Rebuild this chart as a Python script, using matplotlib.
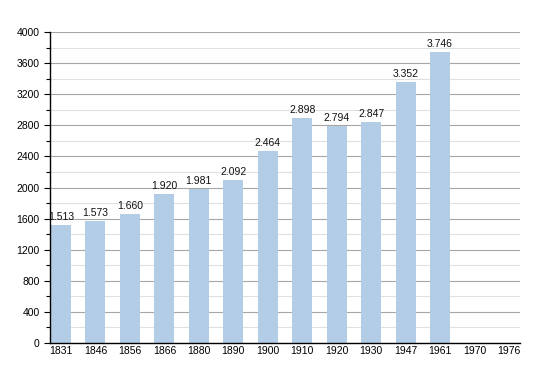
import matplotlib
matplotlib.use("Agg")
import matplotlib.pyplot as plt
import numpy as np

years = ["1831", "1846", "1856", "1866", "1880", "1890", "1900", "1910", "1920", "1930", "1947", "1961", "1970", "1976"]
population = [1513, 1573, 1660, 1920, 1981, 2092, 2464, 2898, 2794, 2847, 3352, 3746, None, None]
labels = ["1.513", "1.573", "1.660", "1.920", "1.981", "2.092", "2.464", "2.898", "2.794", "2.847", "3.352", "3.746", "", ""]

plt.rcParams['font.family'] = ['Liberation Sans', 'DejaVu Sans']

fig = plt.figure(figsize=(5.5, 3.73), dpi=100)
ax = fig.add_axes([50/550, 30/373, 470/550, 311/373])

x = np.arange(len(years))
for i, v in enumerate(population):
    if v is None:
        continue
    ax.bar(i, v, width=0.58, color="#b3cde6", zorder=2)
    ax.text(i, v + 40, labels[i], ha="center", va="bottom", fontsize=7.5, color="#111111", zorder=3)

ax.set_xlim(-0.32, 13.32)
ax.set_ylim(0, 4000)
ax.set_xticks(x)
ax.set_xticklabels(years, fontsize=7.5)
ax.set_yticks(np.arange(0, 4001, 400))
ax.set_yticks(np.arange(200, 4000, 400), minor=True)
ax.tick_params(axis="y", which="major", labelsize=7.5, length=4, width=0.8)
ax.tick_params(axis="y", which="minor", length=3, width=0.8)
ax.tick_params(axis="x", length=0, pad=2.5)

ax.grid(axis="y", which="major", color="#a6a6a6", linewidth=0.8, zorder=0)
ax.grid(axis="y", which="minor", color="#e0e0e0", linewidth=0.8, zorder=0)
ax.set_axisbelow(True)

for s in ["top", "right"]:
    ax.spines[s].set_visible(False)
ax.spines["left"].set_linewidth(1.0)
ax.spines["bottom"].set_linewidth(1.0)

fig.savefig("out.png", dpi=100)
